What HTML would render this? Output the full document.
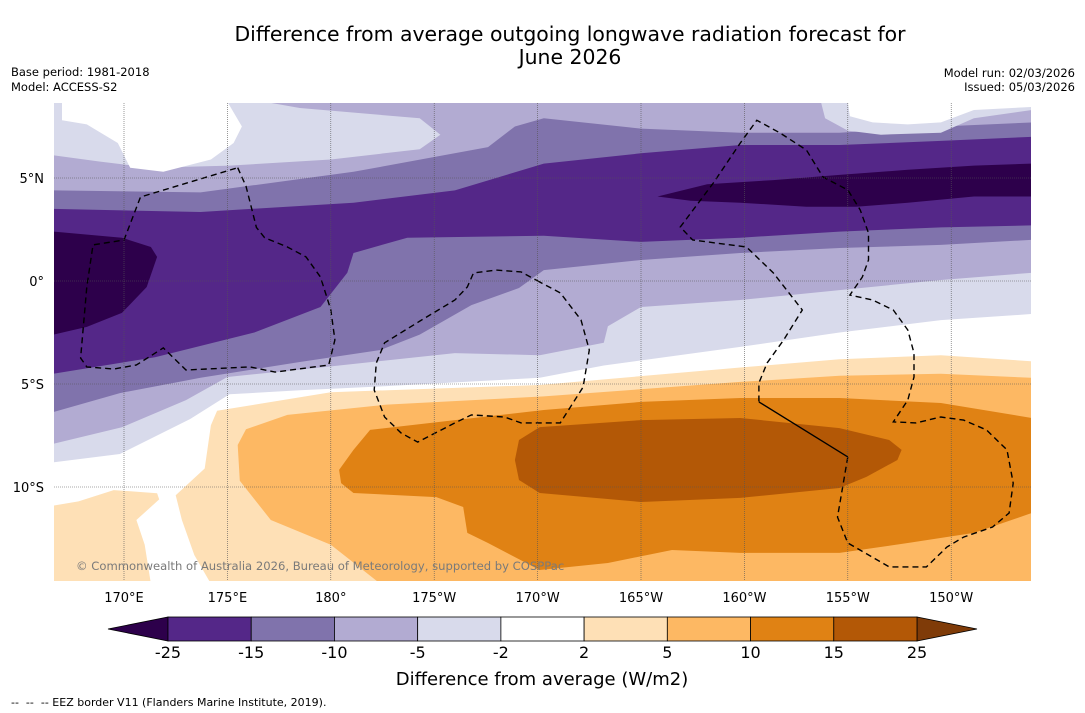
<!DOCTYPE html>
<html><head><meta charset="utf-8"><style>
body{margin:0;background:#fff;width:1085px;height:713px;overflow:hidden;font-family:"DejaVu Sans",sans-serif}
svg{display:block}
</style></head><body>
<svg id="chart" width="1085" height="713" viewBox="0 0 1085 713" font-family="DejaVu Sans, sans-serif">
<text x="570" y="41" font-size="20.4" text-anchor="middle">Difference from average outgoing longwave radiation forecast for</text>
<text x="570" y="64" font-size="20.4" text-anchor="middle">June 2026</text>
<text x="11" y="76" font-size="11.5">Base period: 1981-2018</text>
<text x="11" y="91" font-size="11.5">Model: ACCESS-S2</text>
<text x="1075" y="77" font-size="11.5" text-anchor="end">Model run: 02/03/2026</text>
<text x="1075" y="91" font-size="11.5" text-anchor="end">Issued: 05/03/2026</text>
<defs><clipPath id="mapclip"><rect x="54" y="103" width="977" height="478"/></clipPath></defs>
<g id="map" clip-path="url(#mapclip)"></g>
<g id="axes"></g>
<text x="76" y="570" font-size="11.6" fill="#7a7a7a">© Commonwealth of Australia 2026, Bureau of Meteorology, supported by COSPPac</text>
<g id="cbar"></g>
<text x="542" y="685" font-size="18" text-anchor="middle">Difference from average (W/m2)</text>
<text x="11" y="706" font-size="11" xml:space="preserve">--  --  -- EEZ border V11 (Flanders Marine Institute, 2019).</text>
</svg>
<script>
// Colorbar levels and colours
const levelLabels = ["-25","-15","-10","-5","-2","2","5","10","15","25"];
const levelColors = ["#542788","#8073ac","#b2abd2","#d8daeb","#ffffff","#fee0b6","#fdb863","#e08214","#b35806"];
const extendLow = "#2d004b", extendHigh = "#7f3b08";
// Axis ticks
const lonTicks = [170,175,180,185,190,195,200,205,210];
const lonTickLabels = ["170°E","175°E","180°","175°W","170°W","165°W","160°W","155°W","150°W"];
const latTicks = [5,0,-5,-10];
const latTickLabels = ["5°N","0°","5°S","10°S"];
// Contour regions [lon(°E, 0-360), lat] painted in order
const regionColors = ["#d8daeb","#b2abd2","#8073ac","#542788","#2d004b","#2d004b","#d8daeb","#d8daeb","#ffffff","#ffffff","#fee0b6","#fee0b6","#fdb863","#e08214","#b35806"];
const regionNames = ["band-minus2-to-minus5","band-minus5-to-minus10","band-minus10-to-minus15","band-minus15-to-minus25","blob-below-minus25-west","blob-below-minus25-east","patch-minus5-northwest","patch-minus5-northeast","patch-neutral-northwest","patch-neutral-northeast","band-2-to-5","patch-2-to-5-southwest","band-5-to-10","band-10-to-15","blob-15-to-25"];
const regions = [
[[166.6,8.7],[213.9,8.7],[213.9,-1.6],[209.5,-1.9],[204.6,-2.5],[199.8,-3.2],[193.2,-4.1],[190.1,-4.7],[182.7,-5.1],[178.5,-5.3],[175.1,-5.5],[173.2,-6.7],[169.8,-8.4],[166.6,-8.8]],
[[166.6,8.7],[213.9,8.7],[213.9,0.4],[209.5,0.05],[204.6,-0.44],[199.8,-0.92],[195.0,-1.26],[193.4,-2.2],[193.2,-3.0],[190.1,-3.6],[186.0,-3.5],[179.5,-4.2],[175.0,-4.66],[173.0,-5.78],[169.9,-7.1],[166.6,-7.9]],
[[166.6,4.4],[173.7,4.3],[181.1,5.3],[187.6,6.5],[188.9,7.5],[190.3,7.9],[195.0,7.4],[199.8,7.2],[204.6,7.2],[209.5,7.5],[213.9,7.7],[213.9,2.0],[209.5,1.75],[204.6,1.6],[199.8,1.36],[195.0,1.02],[190.3,0.53],[189.1,-0.34],[186.8,-1.17],[184.3,-2.6],[182.4,-3.35],[178.5,-3.93],[173.7,-4.7],[169.8,-5.44],[166.6,-6.36]],
[[166.6,3.5],[173.7,3.35],[181.1,3.8],[186.0,4.4],[190.3,5.7],[195.0,6.2],[199.8,6.6],[204.6,6.6],[209.5,6.8],[213.9,7.0],[213.9,2.7],[209.5,2.6],[204.6,2.4],[199.8,2.1],[195.0,1.9],[190.3,2.2],[183.7,2.1],[181.1,1.36],[180.8,0.4],[179.5,-1.26],[176.3,-2.5],[171.5,-3.7],[166.6,-4.5]],
[[166.6,2.4],[169.9,2.1],[171.3,1.65],[171.6,1.17],[171.1,-0.29],[169.9,-1.55],[168.2,-2.23],[166.6,-2.6]],
[[195.8,4.1],[198.2,4.7],[201.4,4.9],[204.6,5.15],[207.9,5.4],[211.1,5.6],[213.9,5.7],[213.9,4.1],[211.1,4.1],[207.9,3.8],[205.4,3.6],[203.0,3.6],[199.8,3.8],[197.4,3.9]],
[[166.6,8.7],[176.8,8.7],[178.5,8.4],[184.3,7.9],[185.3,7.1],[184.3,6.4],[180.0,5.9],[175.1,5.6],[171.3,5.5],[168.8,5.8],[166.6,6.1]],
[[203.7,8.7],[213.9,8.7],[213.9,8.3],[211.1,7.9],[209.5,7.2],[206.6,7.1],[205.0,7.3],[203.9,7.9]],
[[167.0,8.7],[175.0,8.7],[175.7,7.5],[175.3,6.7],[174.2,5.9],[171.9,5.3],[170.3,5.5],[169.7,6.7],[168.2,7.6],[167.0,7.8]],
[[205.0,8.7],[213.9,8.7],[213.9,8.45],[211.1,8.3],[209.5,7.7],[207.9,7.6],[206.2,7.7],[205.1,8.0]],
[[174.5,-6.3],[180.0,-5.4],[190.1,-5.05],[199.8,-4.2],[204.6,-3.8],[209.5,-3.6],[213.9,-3.9],[213.9,-14.7],[174.2,-14.7],[173.4,-13.3],[172.8,-11.6],[172.5,-10.4],[173.9,-9.1],[174.2,-7.0]],
[[166.6,-10.9],[167.8,-10.7],[169.5,-10.15],[171.6,-10.3],[171.7,-10.6],[170.6,-11.6],[171.0,-12.8],[171.3,-14.7],[166.6,-14.7]],
[[175.9,-7.2],[177.9,-6.5],[182.7,-6.0],[190.3,-5.6],[199.8,-4.9],[204.6,-4.6],[209.5,-4.5],[213.9,-4.7],[213.9,-14.7],[182.4,-14.7],[180.0,-12.8],[177.1,-11.6],[175.6,-9.7],[175.5,-7.96]],
[[180.4,-9.17],[181.1,-8.2],[181.9,-7.23],[186.0,-6.75],[190.3,-6.26],[195.0,-5.87],[199.8,-5.68],[204.6,-5.68],[209.5,-5.92],[213.9,-6.65],[213.9,-11.26],[211.1,-12.23],[207.9,-12.72],[204.6,-13.2],[199.8,-13.2],[196.5,-13.06],[193.4,-13.69],[190.1,-14.03],[187.6,-12.72],[186.6,-12.23],[186.4,-10.97],[185.1,-10.49],[181.1,-10.29],[180.5,-9.81]],
[[188.9,-8.69],[189.1,-7.72],[190.1,-7.09],[195.0,-6.75],[199.8,-6.65],[204.6,-7.14],[207.0,-7.72],[207.6,-8.2],[207.4,-8.69],[205.9,-9.51],[204.6,-10.05],[199.8,-10.53],[195.0,-10.73],[190.1,-10.29],[189.1,-9.66]]
];
// EEZ borders [lon, lat]
const eezWest = [[175.5,5.5],[175.9,4.6],[176.4,2.6],[176.8,2.1],[177.9,1.65],[178.8,1.17],[179.5,0.19],[180.0,-1.4],[180.2,-2.86],[179.9,-4.08],[177.3,-4.42],[176.1,-4.17],[173.0,-4.32],[171.9,-3.25],[170.6,-4.08],[169.5,-4.27],[168.2,-4.17],[167.9,-3.74],[168.2,-0.29],[168.5,1.75],[170.0,1.99],[170.8,4.08],[175.5,5.5]];
const eezMid = [[190.1,-0.05],[189.2,0.44],[188.0,0.53],[186.9,0.39],[186.6,-0.29],[186.0,-0.92],[184.4,-1.89],[182.6,-3.0],[182.2,-3.98],[182.1,-5.29],[182.6,-6.6],[183.4,-7.38],[184.2,-7.82],[186.0,-6.89],[186.8,-6.5],[188.4,-6.6],[189.2,-6.89],[190.1,-6.89],[191.1,-6.89],[192.2,-5.15],[192.5,-3.35],[192.1,-1.89],[191.1,-0.58],[190.1,-0.05]];
const eezEast = [[205.0,-8.54],[204.5,-11.46],[205.0,-12.72],[207.0,-13.88],[208.8,-13.88],[209.8,-12.91],[210.6,-12.43],[212.0,-11.94],[212.8,-11.26],[213.0,-9.81],[212.7,-8.2],[211.7,-7.23],[210.6,-6.75],[209.5,-6.6],[208.3,-6.89],[207.2,-6.84],[207.9,-5.78],[208.2,-4.66],[208.2,-3.5],[207.9,-2.38],[207.2,-1.41],[206.2,-0.92],[205.1,-0.68],[205.7,0.19],[206.0,1.02],[206.0,2.33],[205.6,3.45],[205.0,4.42],[203.8,5.05],[203.0,6.36],[201.7,7.2],[200.6,7.8],[199.8,6.7],[198.5,4.76],[196.9,2.62],[197.5,1.99],[200.1,1.65],[201.4,0.39],[202.8,-1.41],[201.9,-2.86],[201.1,-3.98],[200.7,-4.95],[200.7,-5.87]];
const eezSolid = [[200.7,-5.87],[205.0,-8.54]];

const NS="http://www.w3.org/2000/svg";
const xOf = lon => 124 + (lon-170)*20.68;
const yOf = lat => 281 - lat*20.6;
const pts = arr => arr.map(p => xOf(p[0]).toFixed(1)+","+yOf(p[1]).toFixed(1)).join(" ");
const map = document.getElementById("map");
const bg = document.createElementNS(NS,"rect");
bg.setAttribute("x",54);bg.setAttribute("y",103);bg.setAttribute("width",977);bg.setAttribute("height",478);bg.setAttribute("fill","#fff");


map.appendChild(bg);
regions.forEach((r,i)=>{
  const p=document.createElementNS(NS,"polygon");
  p.setAttribute("points",pts(r));
  p.setAttribute("fill",regionColors[i]);
  
  
  map.appendChild(p);
});
[[eezWest,"eez-border-west"],[eezMid,"eez-border-central"],[eezEast,"eez-border-east"]].forEach(([a,n])=>{
  const l=document.createElementNS(NS,"polyline");
  l.setAttribute("points",pts(a));l.setAttribute("fill","none");l.setAttribute("stroke","#000");
  l.setAttribute("stroke-width","1.4");l.setAttribute("stroke-dasharray","6,4");
  
  
  map.appendChild(l);
});
const sl=document.createElementNS(NS,"polyline");
sl.setAttribute("points",pts(eezSolid));sl.setAttribute("fill","none");sl.setAttribute("stroke","#000");sl.setAttribute("stroke-width","1.3");


map.appendChild(sl);
// gridlines
lonTicks.forEach(l=>{
  const g=document.createElementNS(NS,"line");
  g.setAttribute("x1",xOf(l));g.setAttribute("x2",xOf(l));g.setAttribute("y1",103);g.setAttribute("y2",581);
  g.setAttribute("stroke","#555");g.setAttribute("stroke-width","0.6");g.setAttribute("stroke-dasharray","1,1");
  
  
  map.appendChild(g);
});
latTicks.forEach(l=>{
  const g=document.createElementNS(NS,"line");
  g.setAttribute("y1",yOf(l));g.setAttribute("y2",yOf(l));g.setAttribute("x1",54);g.setAttribute("x2",1031);
  g.setAttribute("stroke","#555");g.setAttribute("stroke-width","0.6");g.setAttribute("stroke-dasharray","1,1");
  
  
  map.appendChild(g);
});
const axes=document.getElementById("axes");
lonTicks.forEach((l,i)=>{
  const t=document.createElementNS(NS,"text");
  t.setAttribute("x",xOf(l));t.setAttribute("y",602);t.setAttribute("font-size","13");t.setAttribute("text-anchor","middle");
  t.textContent=lonTickLabels[i];
  
  
  axes.appendChild(t);
});
latTicks.forEach((l,i)=>{
  const t=document.createElementNS(NS,"text");
  t.setAttribute("x",44);t.setAttribute("y",yOf(l)+5);t.setAttribute("font-size","13");t.setAttribute("text-anchor","end");
  t.textContent=latTickLabels[i];
  
  
  axes.appendChild(t);
});
// colorbar
const cb=document.getElementById("cbar");
const cx0=168, cx1=917, cy=617, ch=24;
const cw=(cx1-cx0)/levelColors.length;
const tl=document.createElementNS(NS,"polygon");
tl.setAttribute("points",`${cx0},${cy} ${cx0},${cy+ch} 108,${cy+ch/2}`);tl.setAttribute("fill",extendLow);tl.setAttribute("stroke","#000");tl.setAttribute("stroke-width","0.8");


cb.appendChild(tl);
const tr=document.createElementNS(NS,"polygon");
tr.setAttribute("points",`${cx1},${cy} ${cx1},${cy+ch} 977,${cy+ch/2}`);tr.setAttribute("fill",extendHigh);tr.setAttribute("stroke","#000");tr.setAttribute("stroke-width","0.8");


cb.appendChild(tr);
levelColors.forEach((c,i)=>{
  const r=document.createElementNS(NS,"rect");
  r.setAttribute("x",cx0+i*cw);r.setAttribute("y",cy);r.setAttribute("width",cw);r.setAttribute("height",ch);
  r.setAttribute("fill",c);r.setAttribute("stroke","#000");r.setAttribute("stroke-width","0.8");
  
  
  cb.appendChild(r);
});
levelLabels.forEach((s,i)=>{
  const t=document.createElementNS(NS,"text");
  t.setAttribute("x",cx0+i*cw);t.setAttribute("y",658);t.setAttribute("font-size","16");t.setAttribute("text-anchor","middle");
  t.textContent=s;
  
  
  cb.appendChild(t);
});
</script>
</body></html>
